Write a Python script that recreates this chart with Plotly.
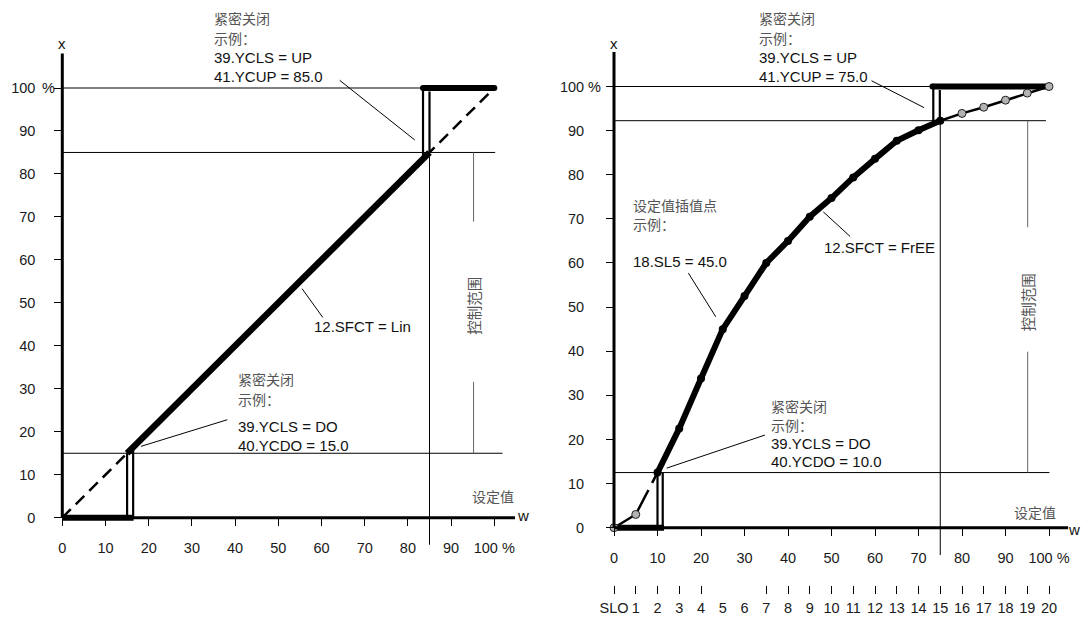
import plotly.graph_objects as go

# ---------------- data ----------------
# Left chart: linear characteristic (12.SFCT = Lin)
LIN_IDEAL_W = [0, 100]
LIN_IDEAL_X = [0, 100]
LIN_ACTIVE_W = [15, 85]
LIN_ACTIVE_X = [15, 85]
LIN_LOW_W = [0, 16.5]
LIN_LOW_X = [0, 0]
LIN_HIGH_W = [83.5, 100]
LIN_HIGH_X = [100, 100]
LIN_YCDO = 15.0
LIN_YCUP = 85.0

# Right chart: free characteristic (12.SFCT = FrEE), setpoint interpolation points SLO..SL20
SL_W = [0, 5, 10, 15, 20, 25, 30, 35, 40, 45, 50, 55, 60, 65, 70, 75, 80, 85, 90, 95, 100]
SL_X = [0, 3.0, 12.5, 22.5, 33.8, 45.0, 52.5, 60.0, 65.0, 70.5, 74.7, 79.4, 83.6, 87.7,
        90.1, 92.25, 93.9, 95.3, 96.9, 98.5, 100]
SL_LABELS = ["SLO"] + [str(i) for i in range(1, 21)]
SL_MARK_W = [0, 5, 10, 15, 20, 35, 40, 45, 50, 55, 60, 65, 70, 75, 80, 85, 90, 95, 100]
FREE_YCDO = 10.0
FREE_YCUP = 75.0

X_TICKS = [0, 10, 20, 30, 40, 50, 60, 70, 80, 90, 100]
X_TICKTEXT = ["0", "10", "20", "30", "40", "50", "60", "70", "80", "90", "100 %"]
Y_TICKS = [0, 10, 20, 30, 40, 50, 60, 70, 80, 90, 100]
Y_TICKTEXT = ["0", "10", "20", "30", "40", "50", "60", "70", "80", "90", "100"]

# ---------------- geometry / style ----------------
W, H = 1088, 617
L_X0, L_XU, L_Y0, L_YU = 62.3, 4.32, 517.7, 4.297
R_X0, R_XU, R_Y0, R_YU = 614.0, 4.35, 527.7, 4.412

LAT = "Liberation Sans, Arial, sans-serif"
CJK = "Noto Sans CJK SC, sans-serif"
GRAY_TXT = "#555555"
BLACK = "#111111"
LAT_SIZE = 15
CJK_SIZE = 14


def xr(x0, xu, p0, p1):
    return [(p0 - x0) / xu, (p1 - x0) / xu]


def yr(y0, yu):
    return [(y0 - H) / yu, y0 / yu]


fig = go.Figure()
shapes = []
anns = []


def seg(xref, yref, x0, y0, x1, y1, color="#000", width=1, layer="below"):
    shapes.append(dict(type="line", xref=xref, yref=yref, x0=x0, y0=y0, x1=x1, y1=y1,
                       line=dict(color=color, width=width), layer=layer))


def txt(xref, yref, x, y, s, cjk=False, size=None, xanchor="left", angle=0):
    if size is None:
        size = CJK_SIZE if cjk else LAT_SIZE
    anns.append(dict(xref=xref, yref=yref, x=x, y=y, text=s, showarrow=False,
                     xanchor=xanchor, yanchor="middle", textangle=angle,
                     font=dict(family=CJK if cjk else LAT, size=size,
                               color=GRAY_TXT if cjk else BLACK)))


# ================= LEFT PANEL =================
xa, ya = "x", "y"
seg(xa, ya, 0, 100, 100, 100)
seg(xa, ya, 0, LIN_YCUP, 100.2, LIN_YCUP)
seg(xa, ya, 0, LIN_YCDO, 101.9, LIN_YCDO)
seg(xa, ya, LIN_YCUP, LIN_YCUP, LIN_YCUP, -6.3)
seg(xa, ya, 95.2, LIN_YCUP, 95.2, 68.9, color="#666", width=1)
seg(xa, ya, 95.2, 31.6, 95.2, LIN_YCDO, color="#666", width=1)
seg(xa, ya, 0, 0, 104.8, 0, width=3, layer="above")
seg(xa, ya, 0, 0, 0, 108, width=3, layer="above")

fig.add_trace(go.Scatter(x=LIN_IDEAL_W, y=LIN_IDEAL_X, mode="lines", xaxis=xa, yaxis=ya,
                         line=dict(color="#000", width=2.5, dash="12px,7px")))
fig.add_trace(go.Scatter(x=LIN_ACTIVE_W, y=LIN_ACTIVE_X, mode="lines", xaxis=xa, yaxis=ya,
                         line=dict(color="#000", width=6.5)))
fig.add_trace(go.Scatter(x=LIN_LOW_W, y=LIN_LOW_X, mode="lines", xaxis=xa, yaxis=ya,
                         line=dict(color="#000", width=6)))
fig.add_trace(go.Scatter(x=LIN_HIGH_W, y=LIN_HIGH_X, mode="lines+markers", xaxis=xa, yaxis=ya,
                         line=dict(color="#000", width=6), marker=dict(size=6, color="#000")))
for wv, top in [(LIN_YCDO, LIN_YCDO), (16.4, 16.4)]:
    fig.add_trace(go.Scatter(x=[wv, wv], y=[0, top], mode="lines", xaxis=xa, yaxis=ya,
                             line=dict(color="#000", width=2.2)))
for wv, bot, top in [(83.5, 83.5, 100), (LIN_YCUP, LIN_YCUP, 99.2)]:
    fig.add_trace(go.Scatter(x=[wv, wv], y=[bot, top], mode="lines", xaxis=xa, yaxis=ya,
                             line=dict(color="#000", width=2.2)))

seg(xa, ya, 64.2, 101.8, 81.6, 87.9, layer="above")
seg(xa, ya, 38.2, 22.8, 18.2, 16.6, layer="above")
seg(xa, ya, 55.5, 53.3, 60.3, 46.6, layer="above")

for s, yv, c in [("紧密关闭", 116.3, True), ("示例：", 111.6, True),
                 ("39.YCLS = UP", 107.0, False), ("41.YCUP = 85.0", 102.6, False)]:
    txt(xa, ya, 34.6, yv, s, cjk=c)
for s, yv, c in [("紧密关闭", 32.2, True), ("示例：", 27.6, True),
                 ("39.YCLS = DO", 21.2, False), ("40.YCDO = 15.0", 16.9, False)]:
    txt(xa, ya, 40.3, yv, s, cjk=c)
txt(xa, ya, 57.8, 44.4, "12.SFCT = Lin")
txt(xa, ya, 99.8, 5.1, "设定值", cjk=True, xanchor="center")
txt(xa, ya, 95.2, 49.2, "控制范围", cjk=True, size=14.5, xanchor="center", angle=-90)
txt(xa, ya, 106.6, 0.6, "w", xanchor="center")
txt(xa, ya, 0, 110.3, "x", xanchor="center")
txt(xa, ya, -3.2, 100, "%", xanchor="center", size=14.5)

# ================= RIGHT PANEL =================
xb, yb = "x2", "y2"
seg(xb, yb, 0, 100, 100, 100)
seg(xb, yb, 0, SL_X[15], 99.3, SL_X[15])
seg(xb, yb, 0, SL_X[2], 100.1, SL_X[2])
seg(xb, yb, FREE_YCUP, SL_X[15], FREE_YCUP, -6.2)
seg(xb, yb, 95.1, SL_X[15], 95.1, 68.1, color="#666", width=1)
seg(xb, yb, 95.1, 39.9, 95.1, SL_X[2], color="#666", width=1)
seg(xb, yb, 0, 0, 104.4, 0, width=3, layer="above")
seg(xb, yb, 0, 0, 0, 107.8, width=3, layer="above")

fig.add_trace(go.Scatter(x=SL_W[0:3], y=SL_X[0:3], mode="lines", xaxis=xb, yaxis=yb,
                         line=dict(color="#000", width=2.5, dash="53px,8px")))
fig.add_trace(go.Scatter(x=SL_W[15:], y=SL_X[15:], mode="lines", xaxis=xb, yaxis=yb,
                         line=dict(color="#000", width=2.5)))
fig.add_trace(go.Scatter(x=SL_W[2:16], y=SL_X[2:16], mode="lines+markers", xaxis=xb, yaxis=yb,
                         line=dict(color="#000", width=6), marker=dict(size=8, color="#000")))
fig.add_trace(go.Scatter(x=[0, 11.5], y=[0, 0], mode="lines", xaxis=xb, yaxis=yb,
                         line=dict(color="#000", width=6)))
fig.add_trace(go.Scatter(x=[73.2, 100], y=[100, 100], mode="lines+markers", xaxis=xb, yaxis=yb,
                         line=dict(color="#000", width=6), marker=dict(size=6, color="#000")))
for wv, top in [(FREE_YCDO, SL_X[2]), (11.2, SL_X[2])]:
    fig.add_trace(go.Scatter(x=[wv, wv], y=[0, top], mode="lines", xaxis=xb, yaxis=yb,
                             line=dict(color="#000", width=2.2)))
for wv, bot, top in [(73.4, 91.7, 100), (74.9, SL_X[15], 99.2)]:
    fig.add_trace(go.Scatter(x=[wv, wv], y=[bot, top], mode="lines", xaxis=xb, yaxis=yb,
                             line=dict(color="#000", width=2.2)))
gw = SL_W[0:2] + SL_W[16:]
gx = SL_X[0:2] + SL_X[16:]
fig.add_trace(go.Scatter(x=gw, y=gx, mode="markers", xaxis=xb, yaxis=yb,
                         marker=dict(size=8, color="#b3b3b3", line=dict(color="#222", width=1))))

seg(xb, yb, 59.2, 101.3, 71.3, 95.2, layer="above")
seg(xb, yb, 34.7, 21.0, 12.1, 13.5, layer="above")
seg(xb, yb, 17.1, 57.7, 23.4, 47.8, layer="above")
seg(xb, yb, 48.1, 71.6, 54.3, 66.0, layer="above")

for s, yv, c in [("紧密关闭", 115.5, True), ("示例：", 110.9, True),
                 ("39.YCLS = UP", 106.6, False), ("41.YCUP = 75.0", 102.2, False)]:
    txt(xb, yb, 32.9, yv, s, cjk=c)
for s, yv, c in [("紧密关闭", 27.5, True), ("示例：", 23.2, True),
                 ("39.YCLS = DO", 19.1, False), ("40.YCDO = 10.0", 15.0, False)]:
    txt(xb, yb, 35.6, yv, s, cjk=c)
for s, yv, c in [("设定值插值点", 73.2, True), ("示例：", 68.9, True),
                 ("18.SL5 = 45.0", 60.3, False)]:
    txt(xb, yb, 3.8, yv, s, cjk=c)
txt(xb, yb, 47.7, 63.5, "12.SFCT = FrEE")
txt(xb, yb, 96.8, 3.5, "设定值", cjk=True, xanchor="center")
txt(xb, yb, 95.1, 51.0, "控制范围", cjk=True, size=14.5, xanchor="center", angle=-90)
txt(xb, yb, 105.8, -0.4, "w", xanchor="center")
txt(xb, yb, 0, 109.8, "x", xanchor="center")
txt(xb, yb, -4.4, 100, "%", xanchor="center", size=14.5)

fig.add_trace(go.Scatter(x=[None], y=[None], xaxis="x3", yaxis="y2", mode="markers"))
fig.add_trace(go.Scatter(x=[None], y=[None], xaxis="x4", yaxis="y2", mode="markers"))

tickfont = dict(family=LAT, size=14.5, color="#1a1a1a")
common = dict(showgrid=False, zeroline=False, showline=False, anchor="free",
              tickfont=tickfont, tickcolor="#000")

fig.update_layout(
    width=W, height=H, autosize=False, showlegend=False,
    margin=dict(l=0, r=0, t=0, b=0),
    paper_bgcolor="white", plot_bgcolor="white",
    xaxis=dict(domain=[0, 0.5], range=xr(L_X0, L_XU, 0, 544), position=1 - L_Y0 / H,
               tickmode="array", tickvals=X_TICKS, ticktext=X_TICKTEXT,
               ticks="outside", ticklen=7, tickwidth=1.2, ticklabelstandoff=10, **common),
    yaxis=dict(domain=[0, 1], range=yr(L_Y0, L_YU), position=L_X0 / W,
               tickmode="array", tickvals=Y_TICKS, ticktext=Y_TICKTEXT,
               ticks="outside", ticklen=8, tickwidth=1.2, ticklabelstandoff=16, **common),
    xaxis2=dict(domain=[0.5, 1], range=xr(R_X0, R_XU, 544, 1088), position=1 - R_Y0 / H,
                tickmode="array", tickvals=X_TICKS, ticktext=X_TICKTEXT,
                ticks="outside", ticklen=7, tickwidth=1.2, ticklabelstandoff=10, **common),
    yaxis2=dict(domain=[0, 1], range=yr(R_Y0, R_YU), position=R_X0 / W,
                tickmode="array", tickvals=Y_TICKS, ticktext=Y_TICKTEXT,
                ticks="outside", ticklen=8, tickwidth=1.2, ticklabelstandoff=19, **common),
    xaxis3=dict(overlaying="x2", domain=[0.5, 1], range=xr(R_X0, R_XU, 544, 1088),
                position=1 - 585 / H, tickmode="array", tickvals=SL_MARK_W,
                showticklabels=False, ticks="outside", ticklen=8, tickwidth=1.2, **common),
    xaxis4=dict(overlaying="x2", domain=[0.5, 1], range=xr(R_X0, R_XU, 544, 1088),
                position=1 - 597 / H, tickmode="array", tickvals=SL_W, ticktext=SL_LABELS,
                ticks="", **common),
    shapes=shapes, annotations=anns,
)

fig.write_html("out.html", config={"displayModeBar": False},
               post_script="document.body.style.margin='0px';document.body.style.overflow='hidden';")
